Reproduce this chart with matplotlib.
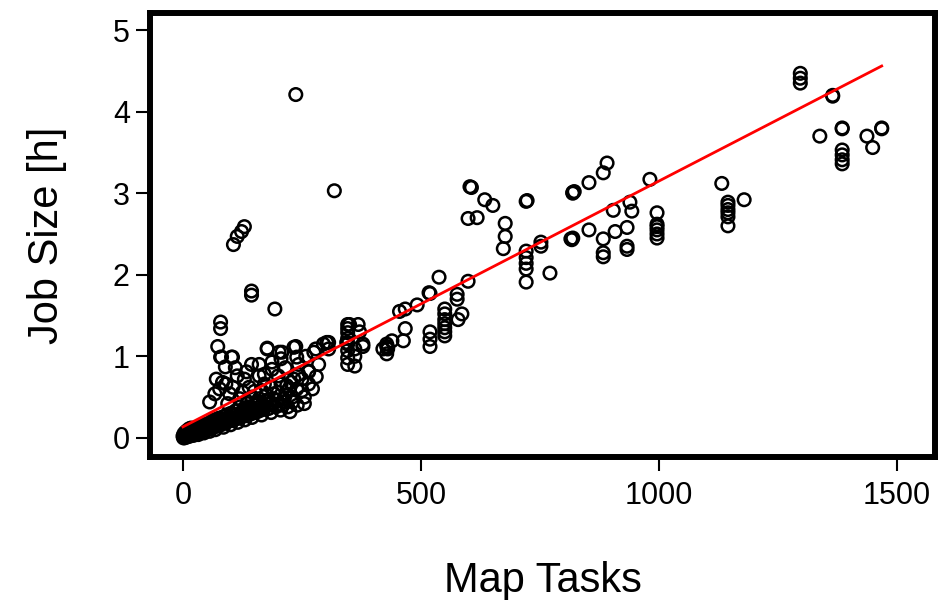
import matplotlib
matplotlib.use("Agg")
import matplotlib.pyplot as plt

plt.rcParams['font.family'] = ['Liberation Sans', 'DejaVu Sans']

# ---- data: (map tasks, job size [h]) ----
upper_right = [
    (1297, 4.47), (1297, 4.41), (1297, 4.35), (1365, 4.19), (1365, 4.20),
    (1338, 3.70), (1385, 3.79), (1385, 3.80), (1385, 3.53), (1385, 3.47),
    (1385, 3.41), (1385, 3.36), (1437, 3.70), (1468, 3.79), (1468, 3.80),
    (1449, 3.56), (1132, 3.12), (1145, 2.89), (1145, 2.85), (1145, 2.80),
    (1145, 2.76), (1145, 2.71), (1145, 2.60), (1179, 2.92),
    (996, 2.76), (996, 2.62), (996, 2.59), (996, 2.55), (996, 2.50),
    (996, 2.45), (981, 3.17),
]
mid_range = [
    (891, 3.37), (883, 3.25), (853, 3.13), (819, 3.01), (819, 3.00), (822, 3.02),
    (603, 3.08), (606, 3.07), (634, 2.92), (651, 2.85), (721, 2.90), (723, 2.91),
    (599, 2.69), (618, 2.70), (677, 2.63), (677, 2.47), (673, 2.32),
    (721, 2.29), (721, 2.21), (721, 2.14), (721, 2.07), (721, 1.91),
    (752, 2.40), (752, 2.35), (771, 2.02), (815, 2.44), (817, 2.43), (819, 2.45),
    (853, 2.55), (883, 2.44), (883, 2.27), (883, 2.22), (908, 2.53),
    (933, 2.58), (933, 2.35), (933, 2.31), (904, 2.79), (939, 2.89), (943, 2.78),
    (538, 1.97), (599, 1.92), (517, 1.78), (519, 1.77), (467, 1.58), (492, 1.63),
    (467, 1.34), (463, 1.19), (576, 1.76), (576, 1.70),
    (550, 1.58), (550, 1.52), (550, 1.45), (550, 1.40), (550, 1.35), (550, 1.30),
    (550, 1.25), (586, 1.52), (578, 1.45), (519, 1.30), (519, 1.21), (519, 1.12),
    (428, 1.12), (430, 1.09),
]
outliers = [
    (237, 4.21), (318, 3.03), (129, 2.59), (123, 2.53), (114, 2.47), (106, 2.37),
    (144, 1.80), (144, 1.75), (193, 1.58), (79, 1.42), (79, 1.34), (73, 1.12),
    (79, 0.99), (104, 0.99), (89, 0.87), (177, 1.10), (144, 0.90), (233, 1.11),
    (208, 1.05), (206, 0.97), (306, 1.17), (306, 1.09),
    (346, 1.39), (346, 1.34), (346, 1.29), (346, 1.22), (346, 1.15), (346, 1.07),
    (346, 0.98), (346, 0.90), (368, 1.39), (378, 1.12), (420, 1.09), (430, 1.11),
    (455, 1.55), (264, 0.81), (223, 0.60),
]
middle_scatter = [
    (81, 0.99), (102, 0.99), (202, 1.05), (239, 0.99), (275, 1.05), (295, 1.15),
    (83, 0.68), (114, 0.76), (133, 0.81), (160, 0.76), (187, 0.84), (227, 0.68),
    (250, 0.72), (264, 0.82), (223, 0.60), (239, 0.60),
    (133, 0.35), (112, 0.29), (56, 0.44), (77, 0.60), (98, 0.54), (119, 0.48),
    (150, 0.57), (171, 0.66), (191, 0.54), (212, 0.48), (181, 0.42), (160, 0.48),
    (139, 0.62), (94, 0.42), (67, 0.54), (206, 0.66),
    (243, 0.78), (285, 0.90), (264, 0.66), (171, 0.78), (129, 0.72),
    (350, 1.39), (371, 1.30), (344, 1.17), (361, 1.09), (361, 1.00), (361, 0.88),
    (378, 1.15), (302, 1.17), (279, 1.09), (258, 1.00), (243, 0.90), (233, 0.72),
    (218, 0.64), (177, 1.09), (160, 0.90), (187, 0.93), (237, 1.12),
    (428, 1.15), (428, 1.03), (439, 1.19),
    (105, 0.62), (125, 0.56), (145, 0.50), (165, 0.58), (185, 0.62), (200, 0.56),
    (215, 0.52), (230, 0.50), (250, 0.58), (198, 0.46), (175, 0.52), (155, 0.44),
    (135, 0.42), (120, 0.38), (210, 0.40), (230, 0.44), (255, 0.50), (272, 0.60),
    (90, 0.66), (70, 0.72), (110, 0.86), (200, 0.76), (215, 0.86), (280, 0.75),
]
dense_cluster = [
    (1, 0.00), (2, 0.01), (3, 0.01), (4, 0.02), (5, 0.01), (5, 0.03), (6, 0.02),
    (8, 0.03), (8, 0.05), (10, 0.02), (10, 0.06), (11, 0.04), (12, 0.05),
    (14, 0.03), (15, 0.07), (16, 0.05), (18, 0.04), (20, 0.06), (20, 0.09),
    (22, 0.05), (24, 0.08), (25, 0.10), (26, 0.06), (28, 0.09), (30, 0.07),
    (30, 0.12), (32, 0.10), (34, 0.08), (35, 0.13), (38, 0.10), (40, 0.09),
    (40, 0.14), (42, 0.12), (45, 0.11), (46, 0.16), (48, 0.13), (50, 0.10),
    (50, 0.17), (52, 0.14), (55, 0.12), (58, 0.18), (60, 0.15), (60, 0.20),
    (62, 0.13), (64, 0.17), (66, 0.22), (70, 0.16), (72, 0.19), (75, 0.24),
    (78, 0.18), (80, 0.16), (80, 0.22), (84, 0.20), (85, 0.26), (88, 0.19),
    (90, 0.23), (92, 0.28), (96, 0.21), (100, 0.25), (100, 0.30), (104, 0.22),
    (108, 0.27), (110, 0.33), (115, 0.24), (120, 0.29), (120, 0.26),
    (125, 0.31), (128, 0.36), (130, 0.28), (135, 0.33), (140, 0.38),
    (145, 0.30), (150, 0.34), (150, 0.40), (155, 0.32), (160, 0.37),
    (160, 0.43), (165, 0.35), (170, 0.39), (175, 0.46), (180, 0.36),
    (185, 0.42), (190, 0.48), (200, 0.40),
    (20, 0.04), (30, 0.06), (40, 0.08), (50, 0.10), (60, 0.12), (70, 0.14),
    (80, 0.17), (90, 0.19), (100, 0.21), (110, 0.23), (120, 0.25), (130, 0.27),
    (140, 0.29), (150, 0.31), (160, 0.33), (170, 0.35),
    (0, 0.02), (2, 0.05), (5, 0.07), (9, 0.09), (13, 0.11), (17, 0.12),
    (3, 0.00), (8, 0.01), (14, 0.02), (22, 0.03), (32, 0.04), (44, 0.06),
    (56, 0.08), (68, 0.10), (85, 0.13), (100, 0.16), (115, 0.19), (130, 0.22),
    (145, 0.25), (165, 0.28), (185, 0.31), (205, 0.34), (220, 0.38),
    (210, 0.44), (195, 0.38), (225, 0.32), (240, 0.40), (255, 0.42),
]

fit_x = [0, 1468]
fit_y = [0.135, 4.56]

x_ticks = [0, 500, 1000, 1500]
y_ticks = [0, 1, 2, 3, 4, 5]

groups = [upper_right, mid_range, outliers, middle_scatter, dense_cluster]
map_tasks = [p[0] for g in groups for p in g]
job_size = [p[1] for g in groups for p in g]

# ---- figure ----
fig = plt.figure(figsize=(9.42, 6.0), dpi=100)
ax = fig.add_axes([150 / 942, 1 - 457 / 600, (935 - 150) / 942, (457 - 13) / 600])

ax.scatter(map_tasks, job_size, s=82, facecolors='none', edgecolors='black',
           linewidths=1.8, zorder=2)
ax.plot(fit_x, fit_y, color='red', linewidth=2, zorder=3)

ax.set_xlim(-69.3, 1580)
ax.set_ylim(-0.235, 5.21)
ax.set_xticks(x_ticks)
ax.set_yticks(y_ticks)
ax.tick_params(axis='both', direction='out', length=10, width=1.5,
               labelsize=22, color='black')
ax.tick_params(axis='x', pad=7)
ax.tick_params(axis='y', pad=4.5)
for side in ax.spines.values():
    side.set_linewidth(4.3)
    side.set_color('black')

ax.set_xlabel('Map Tasks', fontsize=30, labelpad=36)
ax.set_ylabel('Job Size [h]', fontsize=30, labelpad=33)

fig.savefig('out.png', dpi=100)
